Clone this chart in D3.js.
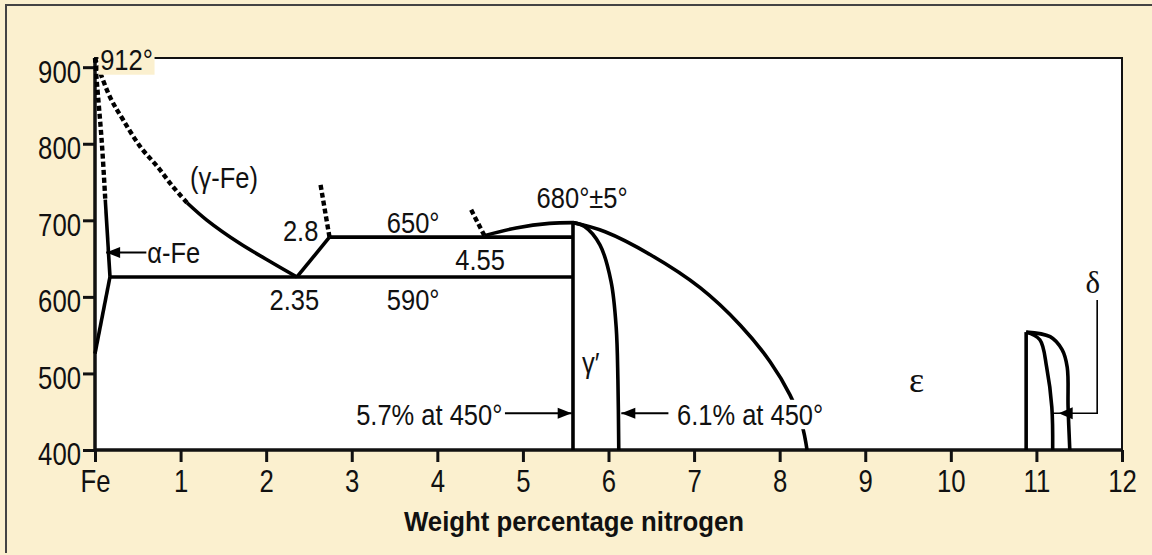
<!DOCTYPE html>
<html>
<head>
<meta charset="utf-8">
<script src="https://cdn.jsdelivr.net/npm/d3@7"></script>
<style>
  body { margin: 0; background: #fbf0cf; }
  svg { display: block; }
</style>
</head>
<body>
<div id="viz"></div>
<script>
// Fe-N phase diagram (wt% N, temperature in deg C)
var xTicks = [0,1,2,3,4,5,6,7,8,9,10,11,12]
var xTickLabels = ["Fe","1","2","3","4","5","6","7","8","9","10","11","12"]
var yTicks = [400,500,600,700,800,900]

// alpha-Fe boundary (dashed part, solid part, lower branch)
var alphaDashed = [[0,912],[0.02,883],[0.08,801],[0.12,727]]
var alphaSolid = [[0.12,727],[0.175,626]]
var alphaLower = [[0.175,626],[0,526]]
// gamma-Fe curve
var gammaDashed = [[0,912],[0.175,861],[0.33,831],[0.53,796],[0.73,770],[0.91,744],[1.075,723]]
var gammaSolid = [[1.075,723],[1.31,700],[1.69,670],[2.08,644],[2.36,626]]
// eutectoid lines
var line590 = [[0.175,626],[5.585,626]]
var rise28 = [[2.36,626],[2.74,678]]
var line650 = [[2.74,678],[5.585,678]]
var dash28 = [[2.74,678],[2.63,750]]
var dash455 = [[4.55,680],[4.38,717]]
// gamma-prime dome
var domeLeft = [[4.55,680],[4.92,690],[5.31,696],[5.585,697]]
var gpLeft = [[5.585,697],[5.585,400]]
var gpRight = [[5.585,697],[5.72,692],[5.9,668],[6.03,620],[6.09,560],[6.11,491],[6.12,400]]
var epsBound = [[5.585,697],[5.96,685],[6.49,655],[7.07,612],[7.54,563],[7.89,515],[8.12,472],[8.26,433],[8.32,400]]
// delta region
var deltaLeft = [[10.88,400],[10.88,554]]
var delta1 = [[10.88,554],[11.04,544],[11.12,508],[11.18,456],[11.19,400]]
var delta2 = [[10.88,554],[11.16,548],[11.3,531],[11.36,508],[11.37,456],[11.39,400]]

// annotation texts and where they sit (wt%, deg C)
var labelTexts = ["912°","(γ-Fe)","α-Fe","2.8","650°","4.55","2.35","590°","680°±5°","γ′","5.7% at 450°","6.1% at 450°"]
var labelX = [0.06,1.11,0.61,2.61,3.41,4.21,2.04,3.41,5.16,5.69,4.76,6.8]
var labelT = [896,742,644,673,683,635,583,583,716,501,433,433]
var greekTexts = ["ε","δ"]
var greekX = [9.6,11.66]
var greekT = [476,605]

var W = 1152, H = 555
var margin = {top: 58, right: 30, bottom: 105, left: 95}
var width = W - margin.left - margin.right
var height = H - margin.top - margin.bottom
var FONT = "'Liberation Sans Narrow','Arial Narrow','Liberation Sans',Arial,sans-serif"
var SQ = 0.85   // horizontal squeeze to mimic the condensed face

var svg = d3.select("#viz").append("svg")
  .attr("width", W).attr("height", H)

// outer frame
svg.append("rect").attr("x",0).attr("y",0).attr("width",W).attr("height",H).attr("fill","#fbf0cf")
svg.append("path").attr("d","M6,553 L6,5 L1152,5").attr("fill","none").attr("stroke","#444").attr("stroke-width",2)

var g = svg.append("g").attr("transform","translate(" + margin.left + "," + margin.top + ")")

var x = d3.scaleLinear().domain([0,12]).range([0,width])
var y = d3.scaleLinear().domain([400,912]).range([height,0])

// plot area
g.append("rect").attr("width",width).attr("height",height).attr("fill","#fff")
  .attr("stroke","#111").attr("stroke-width",2)

// axes
var xAxis = g.append("g").attr("transform","translate(0," + height + ")")
  .call(d3.axisBottom(x).tickValues(xTicks).tickSize(12).tickPadding(5)
        .tickFormat(function(d,i){ return xTickLabels[i] }))
var yAxis = g.append("g")
  .call(d3.axisLeft(y).tickValues(yTicks).tickSize(12).tickPadding(2))
;[xAxis, yAxis].forEach(function(a){
  a.select(".domain").remove()
  a.selectAll(".tick line").attr("stroke","#111").attr("stroke-width",3)
  a.selectAll("text").attr("fill","#111").style("font-family",FONT).style("font-size","31px")
    .attr("x", function(){ return (+d3.select(this).attr("x") || 0) / 0.83 })
    .attr("transform","scale(0.83,1)")
})
xAxis.selectAll("text").attr("dy","0.82em")
yAxis.selectAll("text").attr("dy","0.48em")
g.append("line").attr("x1",0).attr("x2",0).attr("y1",0).attr("y2",height).attr("stroke","#111").attr("stroke-width",3.5)
g.append("line").attr("x1",0).attr("x2",width).attr("y1",height).attr("y2",height).attr("stroke","#111").attr("stroke-width",3.5)

// phase lines
var lineGen = d3.line().x(function(d){ return x(d[0]) }).y(function(d){ return y(d[1]) })
var curveGen = d3.line().x(function(d){ return x(d[0]) }).y(function(d){ return y(d[1]) })
  .curve(d3.curveCatmullRom.alpha(0.5))

var solids = [alphaSolid, alphaLower, line590, rise28, line650, gpLeft, deltaLeft]
var curvesSolid = [gammaSolid, domeLeft, gpRight, epsBound, delta1, delta2]
var dashed = [alphaDashed, gammaDashed, dash28, dash455]

solids.forEach(function(p){
  g.append("path").attr("d", lineGen(p)).attr("fill","none")
    .attr("stroke","#000").attr("stroke-width",3.6).attr("stroke-linejoin","round")
})
curvesSolid.forEach(function(p){
  g.append("path").attr("d", curveGen(p)).attr("fill","none")
    .attr("stroke","#000").attr("stroke-width",3.6)
})
dashed.forEach(function(p){
  g.append("path").attr("d", curveGen(p)).attr("fill","none")
    .attr("stroke","#000").attr("stroke-width",4.4).attr("stroke-dasharray","5,3")
})

// labels (each in its own squeezed group)
var labels = g.selectAll(".lbl").data(labelTexts).enter().append("g")
  .attr("class","lbl")
  .attr("transform", function(d,i){ return "translate(" + x(labelX[i]) + "," + y(labelT[i]) + ") scale(" + SQ + ",1)" })
labels.append("text")
  .attr("text-anchor", function(d){ return (d == "2.8" || d.indexOf("5.7") == 0) ? "end" : "start" })
  .style("font-family",FONT).style("font-size","30px").attr("fill","#111")
  .text(function(d){ return d })
// backgrounds behind texts that cut lines
labels.each(function(d){
  if (d == "912°" || d.indexOf("6.1") == 0) {
    var b = d3.select(this).select("text").node().getBBox()
    d3.select(this).insert("rect","text")
      .attr("x", b.x - 2).attr("y", b.y + 2).attr("width", b.width + 4).attr("height", b.height - 4)
      .attr("fill", d == "912°" ? "#fbf0cf" : "#fff")
  }
})

g.selectAll(".greek").data(greekTexts).enter().append("text")
  .attr("class","greek")
  .attr("x", function(d,i){ return x(greekX[i]) })
  .attr("y", function(d,i){ return y(greekT[i]) })
  .attr("text-anchor","middle")
  .style("font-family","'Liberation Serif','DejaVu Serif',serif")
  .style("font-size", function(d){ return d == "ε" ? "36px" : "31px" })
  .attr("fill","#111")
  .text(function(d){ return d })

// arrows
function arrow(x0, x1, t) {
  var px0 = x(x0), px1 = x(x1), py = y(t)
  var dir = px1 > px0 ? 1 : -1
  g.append("line").attr("x1",px0).attr("x2",px1).attr("y1",py).attr("y2",py)
    .attr("stroke","#000").attr("stroke-width",2)
  g.append("path")
    .attr("d","M" + px1 + "," + py + " L" + (px1 - dir*14) + "," + (py-5.5) + " L" + (px1 - dir*14) + "," + (py+5.5) + "Z")
    .attr("fill","#000")
}
arrow(0.6, 0.13, 658)
arrow(4.79, 5.57, 448)
arrow(6.7, 6.15, 448)
// delta leader
g.append("path")
  .attr("d", lineGen([[11.71,596],[11.71,448],[11.2,448]]))
  .attr("fill","none").attr("stroke","#000").attr("stroke-width",1.6)
g.append("path")
  .attr("d","M" + x(11.26) + "," + y(448) + " L" + (x(11.26)+14) + "," + (y(448)-6) + " L" + (x(11.26)+14) + "," + (y(448)+6) + "Z")
  .attr("fill","#000")

// x axis title
svg.append("text")
  .attr("transform","translate(574,531) scale(0.92,1)")
  .attr("text-anchor","middle")
  .style("font-family",FONT).style("font-size","28px").style("font-weight","bold")
  .attr("fill","#111")
  .text("Weight percentage nitrogen")
</script>
</body>
</html>
